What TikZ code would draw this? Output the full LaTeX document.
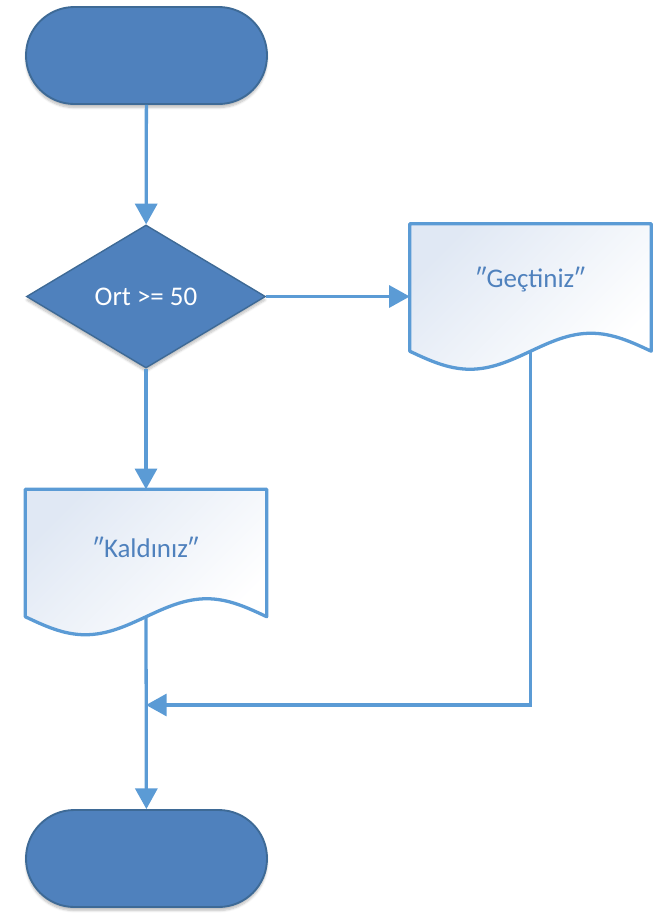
\documentclass[tikz,border=0pt]{standalone}
\usepackage{fontspec}
\setmainfont{Carlito}
\definecolor{termfill}{RGB}{79,129,189}
\definecolor{termline}{RGB}{62,106,150}
\definecolor{flowblue}{RGB}{91,155,213}
\definecolor{docfill}{RGB}{224,232,244}
\definecolor{doctext}{RGB}{79,129,189}
\usetikzlibrary{arrows.meta,positioning,shapes.geometric,calc,shadows.blur}

\begin{document}
\begin{tikzpicture}[x=0.03cm, y=-0.03cm,
    font=\fontsize{23}{28}\selectfont,
    term/.style={draw=termline, line width=1.6pt, fill=termfill, rectangle, rounded corners=1.45cm,
      minimum width=7.23cm, minimum height=2.91cm,
      blur shadow={shadow xshift=0pt, shadow yshift=-3pt, shadow opacity=25, shadow blur steps=6}},
    decision/.style={draw=termline, line width=1.2pt, fill=termfill, diamond, inner sep=0pt,
      minimum width=7.17cm, minimum height=4.29cm, text=white,
      blur shadow={shadow xshift=0pt, shadow yshift=-3pt, shadow opacity=25, shadow blur steps=6}},
    docbox/.style={rectangle, inner sep=0pt, minimum width=7.23cm, minimum height=3.81cm},
    docline/.style={draw=flowblue, line width=2.8pt, line join=round,
      top color=docfill, bottom color=white, shading angle=45},
    doclabel/.style={text=doctext},
    flow/.style={draw=flowblue, line width=2.8pt, -{Triangle[length=0.62cm, width=0.66cm]}}]
  \useasboundingbox (0,0) rectangle (661,913);
  %% terminals and decision
  \node[term] (start) at (146.5,55.5) {};
  \node[decision] (cond) at (146,296.5) {Ort >= 50};
  \node[term] (stop) at (146.5,858.5) {};
  %% output documents
  \node[docbox] (pass) at (530.5,287.5) {};
  \draw[docline] (pass.south west) -- (pass.north west) -- (pass.north east) -- (pass.south east)
    sin ($(pass.south east)+(-60.25,-18)$) cos (pass.south)
    sin ($(pass.south west)+(60.25,18)$) cos (pass.south west) -- cycle;
  \node[doclabel] (passlabel) at ($(pass.center)+(0,-8)$) {″Geçtiniz″};
  \node[docbox] (fail) at (146,553) {};
  \draw[docline] (fail.south west) -- (fail.north west) -- (fail.north east) -- (fail.south east)
    sin ($(fail.south east)+(-60,-18)$) cos (fail.south)
    sin ($(fail.south west)+(60,18)$) cos (fail.south west) -- cycle;
  \node[doclabel] (faillabel) at ($(fail.center)+(0,-6)$) {″Kaldınız″};
  %% connectors
  \coordinate (join) at (146,705);
  \draw[flow] (start) -- (cond);
  \draw[flow] (cond.east) -- (cond.east -| pass.west);
  \draw[flow] (cond) -- (fail);
  \draw[flow] (fail.south) -- (stop);
  \draw[flow] (pass.south) |- (join);
\end{tikzpicture}
\end{document}
